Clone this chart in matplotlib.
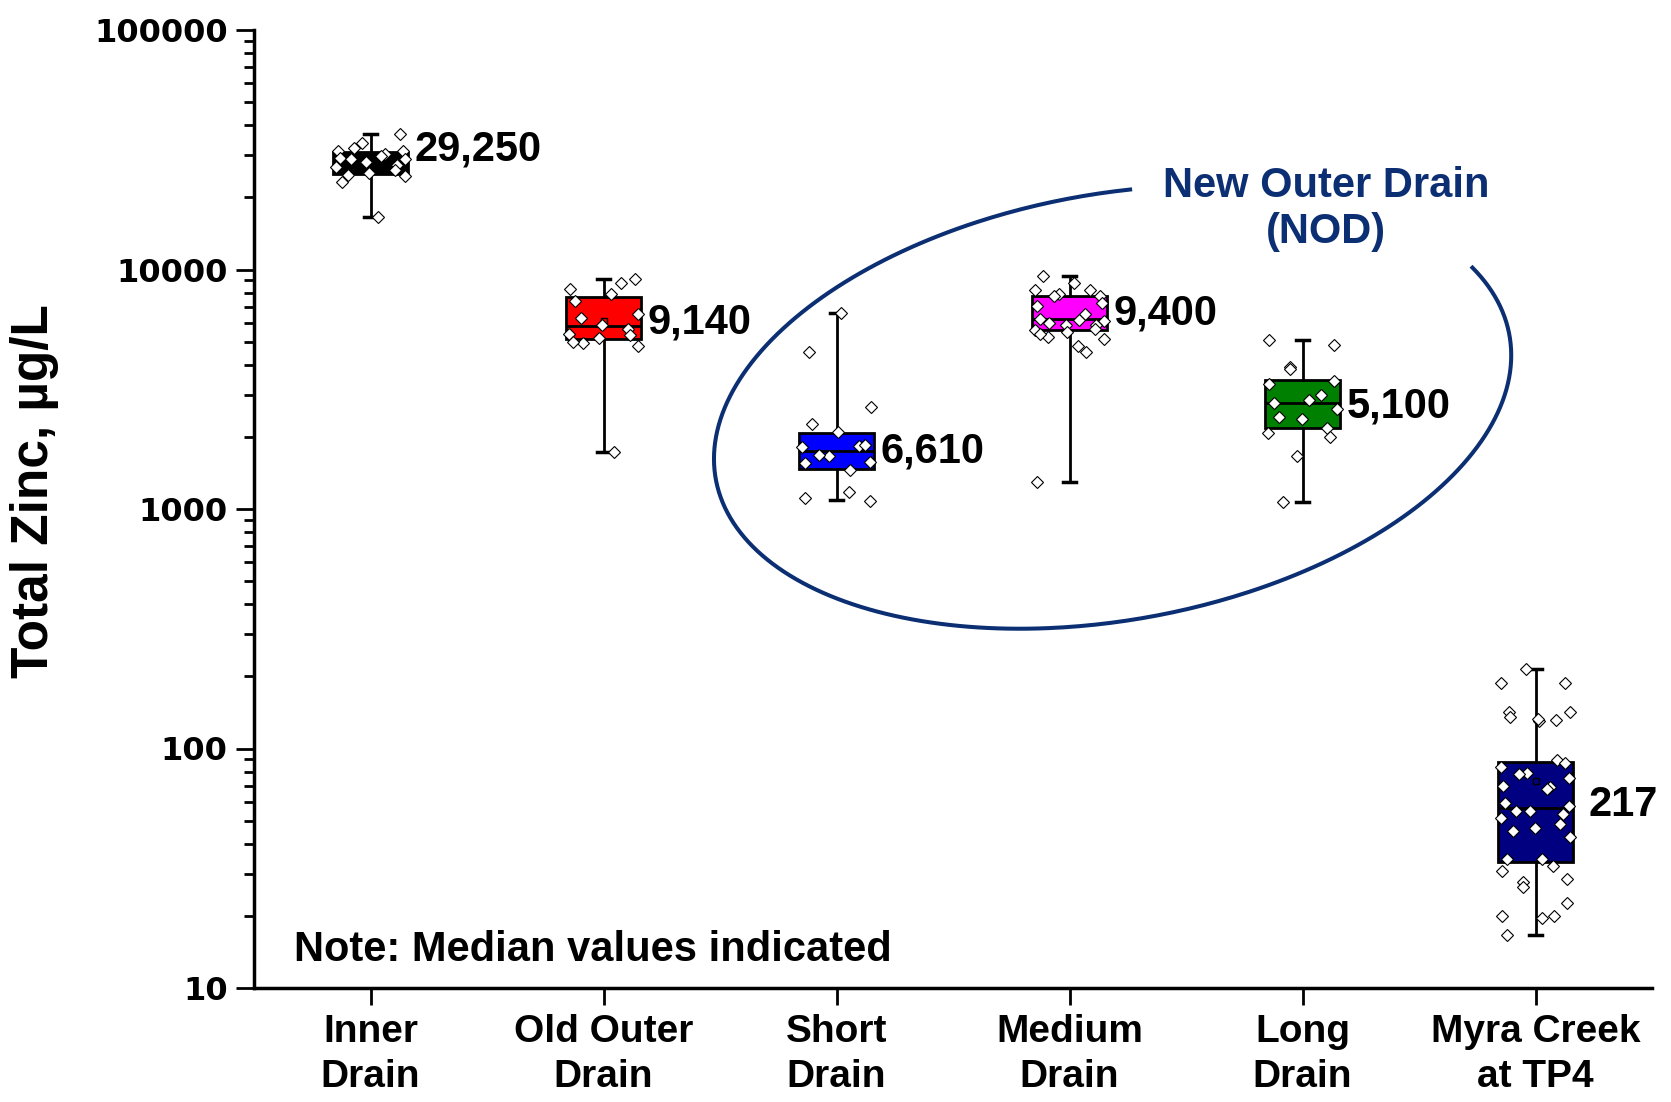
import matplotlib
matplotlib.use("Agg")
import matplotlib.pyplot as plt
import matplotlib.transforms as mtransforms
from matplotlib.lines import Line2D
from matplotlib.ticker import LogLocator, NullFormatter, FuncFormatter, FixedLocator
import numpy as np

# ---- data ----
categories = ['Inner\nDrain', 'Old Outer\nDrain', 'Short\nDrain',
              'Medium\nDrain', 'Long\nDrain', 'Myra Creek\nat TP4']
box_colors = ['#000000', '#FF0000', '#0000FF', '#FF00FF', '#008000', '#000080']

q1 = [25000, 5120, 1466, 5590, 2187, 33.5]
medians = [28000, 5810, 1746, 6210, 2780, 56.6]
q3 = [31000, 7690, 2085, 7780, 3440, 88.1]
whisker_lo = [16600, 1735, 1091, 1300, 1067, 16.7]
whisker_hi = [36700, 9100, 6560, 9400, 5080, 214]
means = [None, 6100, None, None, None, 73]
median_labels = ['29,250', '9,140', '6,610', '9,400', '5,100', '217']
label_y = [31800, 5990, 1746, 6580, 2690, 58]
label_gap = [5, 5, 5, 5, 5, 11]

inner_pts = [36700, 33600, 32300, 31300, 31300, 30500, 29800, 29300, 28900,
             28900, 28000, 27300, 26800, 26000, 25400, 24800, 24500, 23300, 16600]
old_outer_pts = [9100, 8260, 8750, 7870, 7410, 6520, 6290, 5870, 5640, 5360,
                 5330, 5190, 4920, 4810, 5000, 1735]
short_pts = [6560, 4540, 2670, 2264, 2090, 1836, 1820, 1850, 1670, 1680,
             1566, 1560, 1455, 1175, 1110, 1084]
medium_pts = [9360, 8800, 8200, 8250, 7740, 7900, 7780, 7230, 7050, 6520,
              6150, 6230, 6100, 6000, 5870, 5840, 5590, 5640, 5500, 5210,
              5130, 5360, 4810, 4510, 1300]
long_pts = [5080, 4840, 3910, 3830, 3420, 3315, 2990, 2850, 2760, 2606,
            2430, 2370, 2170, 2070, 2000, 1670, 1072]
myra_pts = [214, 187, 188, 131.5, 130, 141.6, 142, 135, 133, 89.5, 83.5, 87.4,
            78.7, 78, 75.5, 69.9, 68.8, 67.8, 59, 57.5, 54.8, 54.9, 53.1, 51.1,
            48.4, 46.5, 45.3, 42.6, 34.5, 34.5, 32.3, 30.9, 28.4, 27.8, 26.3,
            22.6, 19.9, 19.9, 19.6, 16.6]
samples = [inner_pts, old_outer_pts, short_pts, medium_pts, long_pts, myra_pts]

navy = '#0B2F72'
plt.rcParams['font.family'] = ['Liberation Sans', 'DejaVu Sans']

W, H = 1671, 1102
fig = plt.figure(figsize=(W / 100, H / 100), dpi=100)
ax = fig.add_axes([254 / W, 1 - 988 / H, (1652 - 254) / W, (988 - 30) / H])

positions = np.arange(1, len(categories) + 1)
stats = [dict(med=m, q1=a, q3=b, whislo=lo, whishi=hi, fliers=[])
         for m, a, b, lo, hi in zip(medians, q1, q3, whisker_lo, whisker_hi)]

bp = ax.bxp(stats, positions=positions, widths=0.32, capwidths=0.06,
            patch_artist=True, showfliers=False,
            boxprops=dict(linewidth=2, edgecolor='black'),
            medianprops=dict(color='black', linewidth=2),
            whiskerprops=dict(color='black', linewidth=2),
            capprops=dict(color='black', linewidth=2.5), zorder=2)
for patch, c in zip(bp['boxes'], box_colors):
    patch.set_facecolor(c)

for p, m in zip(positions, means):
    if m is not None:
        ax.plot(p, m, marker='s', ms=4, mfc='none', mec='black', mew=1, zorder=3)

# jittered sample points
for p, vals in zip(positions, samples):
    n = len(vals)
    offs = 0.15 * np.sin(np.arange(n) * 2.39996 + p)
    ax.plot(p + offs, vals, linestyle='none', marker='D', ms=6,
            mfc='white', mec='black', mew=0.8, zorder=4)

for p, lab, yv, g in zip(positions, median_labels, label_y, label_gap):
    ax.annotate(lab, xy=(p + 0.16, yv), xytext=(g, 0), textcoords='offset points',
                ha='left', va='center', fontsize=30, fontweight='bold', zorder=5)

ax.set_yscale('log')
ax.set_ylim(10, 100000)
ax.set_xlim(0.5, 6.5)
ax.yaxis.set_major_locator(FixedLocator([10, 100, 1000, 10000, 100000]))
ax.yaxis.set_major_formatter(FuncFormatter(lambda v, _: f'{int(round(v))}'))
ax.yaxis.set_minor_locator(LogLocator(base=10, subs=range(2, 10)))
ax.yaxis.set_minor_formatter(NullFormatter())

ax.set_xticks(positions)
ax.set_xticklabels(categories, fontsize=28, fontweight='bold', linespacing=1.3)
for lab in ax.get_yticklabels():
    lab.set_fontfamily('DejaVu Sans')
    lab.set_fontweight('bold')
    lab.set_fontsize(23)

ax.tick_params(axis='y', which='major', direction='out', length=13, width=2, pad=6)
ax.tick_params(axis='y', which='minor', direction='out', length=7, width=2)
ax.tick_params(axis='x', which='major', direction='out', length=12, width=2, pad=7)
for side in ['top', 'right']:
    ax.spines[side].set_visible(False)
for side in ['left', 'bottom']:
    ax.spines[side].set_linewidth(2.5)

fig.text(35 / W, 1 - 491 / H, 'Total Zinc, µg/L', rotation=90, ha='center',
         va='center', fontsize=37, fontweight='bold')
ax.text(0.0286, 0.0397, 'Note: Median values indicated', transform=ax.transAxes,
        ha='left', va='center', fontsize=30, fontweight='bold')

# NOD ellipse, in pixel coordinates (origin bottom-left), with a gap for the text
px = mtransforms.Affine2D().scale(1 / 100) + fig.dpi_scale_trans
cx, cy, a, b, ang = 1112.6, H - 407.1, 403.3, 213.0, np.deg2rad(10.3)
t = np.deg2rad(np.linspace(82, 380, 400))
ex = a * np.cos(t)
ey = b * np.sin(t)
xs = cx + ex * np.cos(ang) - ey * np.sin(ang)
ys = cy + ex * np.sin(ang) + ey * np.cos(ang)
fig.add_artist(Line2D(xs, ys, color=navy, linewidth=2.9, transform=px))
fig.text(1326, H - 209, 'New Outer Drain\n(NOD)', transform=px, ha='center',
         va='center', fontsize=30, fontweight='bold', color=navy, linespacing=1.2)

fig.savefig('out.png', dpi=100)
